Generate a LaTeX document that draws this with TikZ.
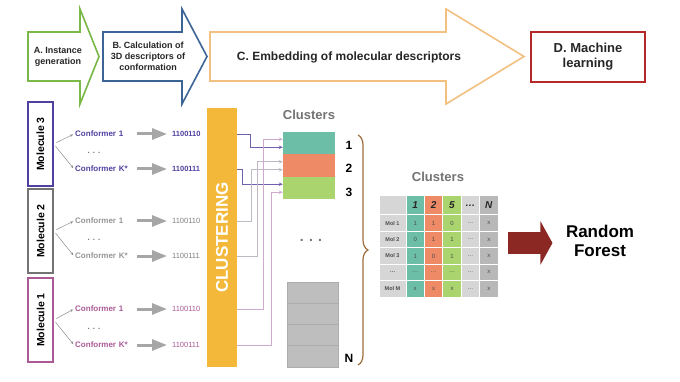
\documentclass[tikz,border=0pt]{standalone}
\usepackage{fontspec}
\setmainfont{Liberation Sans}
\usetikzlibrary{arrows.meta,decorations.pathreplacing}

\definecolor{agreen}{RGB}{122,184,72}
\definecolor{bblue}{RGB}{60,100,150}
\definecolor{corange}{RGB}{242,192,128}
\definecolor{dred}{RGB}{180,40,40}
\definecolor{mthree}{RGB}{80,65,160}
\definecolor{mtwo}{RGB}{150,150,150}
\definecolor{mone}{RGB}{170,90,150}
\definecolor{lthree}{RGB}{115,95,175}
\definecolor{ltwo}{RGB}{190,185,195}
\definecolor{lone}{RGB}{205,170,205}
\definecolor{barorange}{RGB}{243,184,58}
\definecolor{kteal}{RGB}{108,191,166}
\definecolor{ksalmon}{RGB}{239,138,103}
\definecolor{kgreen}{RGB}{169,212,110}
\definecolor{tgray}{RGB}{214,214,214}
\definecolor{tdark}{RGB}{184,184,184}
\definecolor{stackgray}{RGB}{190,190,190}
\definecolor{bracecol}{RGB}{160,110,60}
\definecolor{rfred}{RGB}{140,40,35}

\tikzset{
  toparrow/.style={fill=white, line width=1.6pt, line join=miter},
  toptext/.style={align=center, text=black!85, font=\fontsize{9}{11}\selectfont\bfseries},
  molbox/.style={draw, line width=1.4pt, rotate=90, minimum width=84pt, minimum height=25pt, inner sep=0pt, font=\fontsize{10.5}{12}\selectfont\bfseries},
  conf/.style={anchor=west, text width=56pt, inner sep=1pt, font=\fontsize{8}{9}\selectfont\bfseries},
  code/.style={anchor=west, inner sep=1pt, font=\fontsize{7.5}{9}\selectfont},
  dotsty/.style={text=black!55, font=\fontsize{8}{9}\selectfont\bfseries},
  branch/.style={draw=black!45, line width=0.5pt, shorten <=3pt, shorten >=1pt, -{Stealth[length=3pt,width=2.5pt]}},
  grayarrow/.style={draw=black!35, line width=3pt, shorten <=5pt, shorten >=4pt, -{Triangle[length=15pt,width=11pt]}},
  link/.style={line width=0.8pt, -{Stealth[length=4pt,width=3.5pt]}},
  cluster/.style={minimum width=52pt, minimum height=22.5pt, inner sep=0pt},
  stackcell/.style={fill=stackgray, draw=black!32, line width=0.6pt, minimum width=51pt, minimum height=21.25pt},
  cell/.style={minimum width=17.4pt, minimum height=15.4pt, inner sep=0pt, text=black!70, font=\fontsize{6}{7}\selectfont},
  graytitle/.style={text=black!55, font=\fontsize{13}{15}\selectfont\bfseries}
}

\begin{document}
\begin{tikzpicture}[x=1pt, y=-1pt]
    \useasboundingbox[fill=white] (0,0) rectangle (680,382);

    % top row of steps
    \draw[toparrow, draw=agreen] (28,32) -- (80,32) -- (80,9) -- (99,56.5) -- (80,104) -- (80,81) -- (28,81) -- cycle;
    \draw[toparrow, draw=bblue] (103,32) -- (182,32) -- (182,9) -- (207,56.5) -- (182,104) -- (182,81) -- (103,81) -- cycle;
    \draw[toparrow, draw=corange] (210,32) -- (446,32) -- (446,9) -- (524,56.5) -- (446,104) -- (446,81) -- (210,81) -- cycle;
    \node[toptext] (a) at (58,57) {A. Instance\\generation};
    \node[toptext] (b) at (148,56) {B. Calculation of\\3D descriptors of\\conformation};
    \node[text=black!85, font=\fontsize{12}{14}\selectfont\bfseries] (c) at (349,57) {C. Embedding of molecular descriptors};
    \node[draw=dred, line width=1.6pt, minimum width=114pt, minimum height=50pt, align=center, text=black!85, font=\fontsize{13}{15}\selectfont\bfseries] (d) at (588,57) {D. Machine\\learning};

    % molecules and conformers
    \node[molbox, draw=mthree] (m3) at (40.5,144) {Molecule 3};
    \node[molbox, draw=black!55] (m2) at (40.5,231) {Molecule 2};
    \node[molbox, draw=mone] (m1) at (40.5,320) {Molecule 1};

    \node[conf, text=mthree] (c31) at (74,134) {Conformer 1};
    \node[conf, text=mthree] (c32) at (74,169) {Conformer K*};
    \node[conf, text=mtwo] (c21) at (74,221) {Conformer 1};
    \node[conf, text=mtwo] (c22) at (74,256) {Conformer K*};
    \node[conf, text=mone] (c11) at (74,309) {Conformer 1};
    \node[conf, text=mone] (c12) at (74,345) {Conformer K*};
    \node[dotsty] (d3) at (94,153) {. . .};
    \node[dotsty] (d2) at (94,240) {. . .};
    \node[dotsty] (d1) at (94,329) {. . .};

    \node[code, text=mthree, font=\fontsize{7.5}{9}\selectfont\bfseries] (b31) at (171,134) {1100110};
    \node[code, text=mthree, font=\fontsize{7.5}{9}\selectfont\bfseries] (b32) at (171,169) {1100111};
    \node[code, text=black!50] (b21) at (171,221) {1100110};
    \node[code, text=black!50] (b22) at (171,256) {1100111};
    \node[code, text=mone] (b11) at (171,309) {1100110};
    \node[code, text=mone] (b12) at (171,345) {1100111};

    \draw[branch] (m3.south) -- (c31.west);
    \draw[branch] (m3.south) -- (c32.west);
    \draw[branch] (m2.south) -- (c21.west);
    \draw[branch] (m2.south) -- (c22.west);
    \draw[branch] (m1.south) -- (c11.west);
    \draw[branch] (m1.south) -- (c12.west);
    \draw[grayarrow] (c31.east) -- (b31.west);
    \draw[grayarrow] (c32.east) -- (b32.west);
    \draw[grayarrow] (c21.east) -- (b21.west);
    \draw[grayarrow] (c22.east) -- (b22.west);
    \draw[grayarrow] (c11.east) -- (b11.west);
    \draw[grayarrow] (c12.east) -- (b12.west);

    % clustering
    \node[fill=barorange, minimum width=30pt, minimum height=259pt, inner sep=0pt] (clust) at (222,237.5) {};
    \node[rotate=90, text=white, font=\fontsize{17}{19}\selectfont\bfseries] (clusttext) at (clust.center) {CLUSTERING};

    \node[graytitle] (ktitle) at (309,115) {Clusters};
    \node[cluster, fill=kteal] (k1) at (309,143.25) {};
    \node[cluster, fill=ksalmon] (k2) at (309,165.75) {};
    \node[cluster, fill=kgreen] (k3) at (309,188.25) {};
    \node[font=\fontsize{12}{14}\selectfont\bfseries] (n1) at (349,145) {1};
    \node[font=\fontsize{12}{14}\selectfont\bfseries] (n2) at (349,168) {2};
    \node[font=\fontsize{12}{14}\selectfont\bfseries] (n3) at (349,192) {3};
    \node[text=black!55, font=\fontsize{14}{16}\selectfont\bfseries] (kdots) at (311,240) {. . .};
    \node[stackcell] (g1) at (312.5,292.6) {};
    \node[stackcell] (g2) at (312.5,313.9) {};
    \node[stackcell] (g3) at (312.5,335.1) {};
    \node[stackcell] (g4) at (312.5,356.4) {};
    \node[font=\fontsize{12}{14}\selectfont\bfseries] (nn) at (349,358) {N};

    \draw[link, draw=lthree] (clust.east |- b31) -- ++(13,0) |- ([yshift=-4pt]k1.west);
    \draw[link, draw=lthree] (clust.east |- b32) -- ++(5,0) |- ([yshift=4pt]k3.west);
    \draw[link, draw=ltwo] (clust.east |- b21) -- ++(14,0) |- ([yshift=-4pt]k2.west);
    \draw[link, draw=ltwo] (clust.east |- b22) -- ++(20,0) |- ([yshift=4pt]k2.west);
    \draw[link, draw=lone] (clust.east |- b11) -- ++(26,0) |- ([yshift=4pt]k1.west);
    \draw[link, draw=lone] (clust.east |- b12) -- ++(34,0) |- ([yshift=-4pt]k3.west);

    \coordinate (bracetop) at (358,135);
    \coordinate (bracebot) at (358,365);
    \draw[decorate, decoration={brace, amplitude=10pt}, draw=bracecol, line width=1.2pt] (bracetop) -- (bracebot);

    % table of clusters
    \node[graytitle] (ttitle) at (438,177) {Clusters};
    \node[cell, fill=tgray, minimum width=26pt, minimum height=18pt] (t00) at (392.5,205.5) {};
    \foreach \c/\x/\f/\h in {1/415.2/kteal/1, 2/433.6/ksalmon/2, 3/452/kgreen/5, 4/470.4/tgray/\dots, 5/488.8/tdark/N}
        \node[cell, fill=\f, minimum height=18pt, text=black!85, font=\fontsize{10}{11}\selectfont\bfseries\itshape] (t0\c) at (\x,205.5) {\h};
    \foreach \r/\y/\m/\va/\vb/\vc in {1/223.2/Mol 1/1/1/0, 2/239.6/Mol 2/0/1/1, 3/256/Mol 3/1/0/1, 4/272.4/\dots/\dots/\dots/\dots, 5/288.8/Mol M/x/x/x} {
        \node[cell, fill=tgray, minimum width=26pt, font=\fontsize{5.5}{6}\selectfont\bfseries] (t\r0) at (392.5,\y) {\m};
        \node[cell, fill=kteal] (t\r1) at (415.2,\y) {\va};
        \node[cell, fill=ksalmon] (t\r2) at (433.6,\y) {\vb};
        \node[cell, fill=kgreen] (t\r3) at (452,\y) {\vc};
        \node[cell, fill=tgray] (t\r4) at (470.4,\y) {\dots};
        \node[cell, fill=tdark] (t\r5) at (488.8,\y) {x};
    }

    % random forest
    \node[align=center, font=\fontsize{17}{19}\selectfont\bfseries] (rf) at (600,241) {Random\\Forest};
    \coordinate (rfstart) at (508,243);
    \draw[draw=rfred, line width=21pt, shorten >=10pt, -{Triangle[length=12pt,width=43pt]}] (rfstart) -- (rfstart -| rf.west);
\end{tikzpicture}
\end{document}
